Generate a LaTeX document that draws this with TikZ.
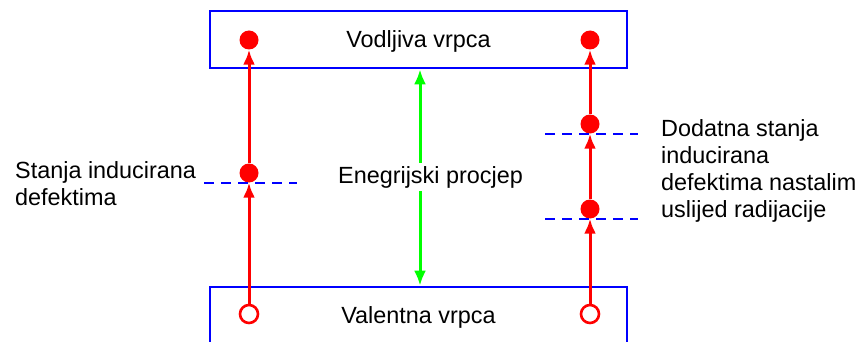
\documentclass[tikz,border=0pt]{standalone}
\usepackage{fontspec}
\setmainfont{Liberation Sans}
\usetikzlibrary{arrows.meta}
\definecolor{gapgreen}{rgb}{0,1,0}
\tikzstyle{band}=[draw=blue,line width=2.6pt,minimum width=417pt,minimum height=57pt,inner sep=0pt,text depth=0pt]
\tikzstyle{full}=[circle,fill=red,minimum size=19pt,inner sep=0pt]
\tikzstyle{hole}=[circle,draw=red,fill=white,line width=2.6pt,minimum size=18pt,inner sep=0pt]
\tikzstyle{transition}=[red,line width=3pt,-{Latex[length=15pt,width=12pt]}]
\tikzstyle{level}=[blue,line width=2.2pt,dash pattern=on 10pt off 7pt]
\tikzstyle{gap}=[gapgreen,line width=3pt,{Latex[length=15pt,width=12pt]}-{Latex[length=15pt,width=12pt]}]
\newcommand{\bigtext}{\fontsize{23.4}{27}\selectfont}
\newcommand{\defectlevel}[1]{
	\draw[level] ([xshift=-45pt]#1.south) -- ([xshift=48pt]#1.south);
}

\begin{document}
\begin{tikzpicture}[x=1pt,y=-1pt,font=\bigtext]
\useasboundingbox (0,0) rectangle (858,342);
% bands
\node[band] (vb) at (418.5,39.5) {Vodljiva vrpca};
\node[band] (valb) at (418.5,315.5) {Valentna vrpca};
% left column
\node[hole] (l1) at (249,314) {};
\node[full] (l2) at (249,173) {};
\node[full] (l3) at (249,40) {};
% right column
\node[hole] (r1) at (590,314) {};
\node[full] (r2) at (590,209) {};
\node[full] (r3) at (590,124) {};
\node[full] (r4) at (590,40) {};
% defect levels
\defectlevel{l2}
\defectlevel{r2}
\defectlevel{r3}
% transitions
\draw[transition] (l1) -- (l2);
\draw[transition] (l2) -- (l3);
\draw[transition] (r1) -- (r2);
\draw[transition] (r2) -- (r3);
\draw[transition] (r3) -- (r4);
% band gap
\draw[gap] ([xshift=1.5pt]vb.south) -- ([xshift=1.5pt]valb.north);
\node[fill=white,inner sep=3pt,anchor=base] (gaptext) at (430.5,183) {Enegrijski procjep};
% labels
\node[align=left,anchor=base west,inner sep=0pt] (leftlabel) at (15,205) {Stanja inducirana\\defektima};
\node[align=left,anchor=base west,inner sep=0pt] (rightlabel) at (661,217) {Dodatna stanja\\inducirana\\defektima nastalim\\uslijed radijacije};
\end{tikzpicture}
\end{document}
